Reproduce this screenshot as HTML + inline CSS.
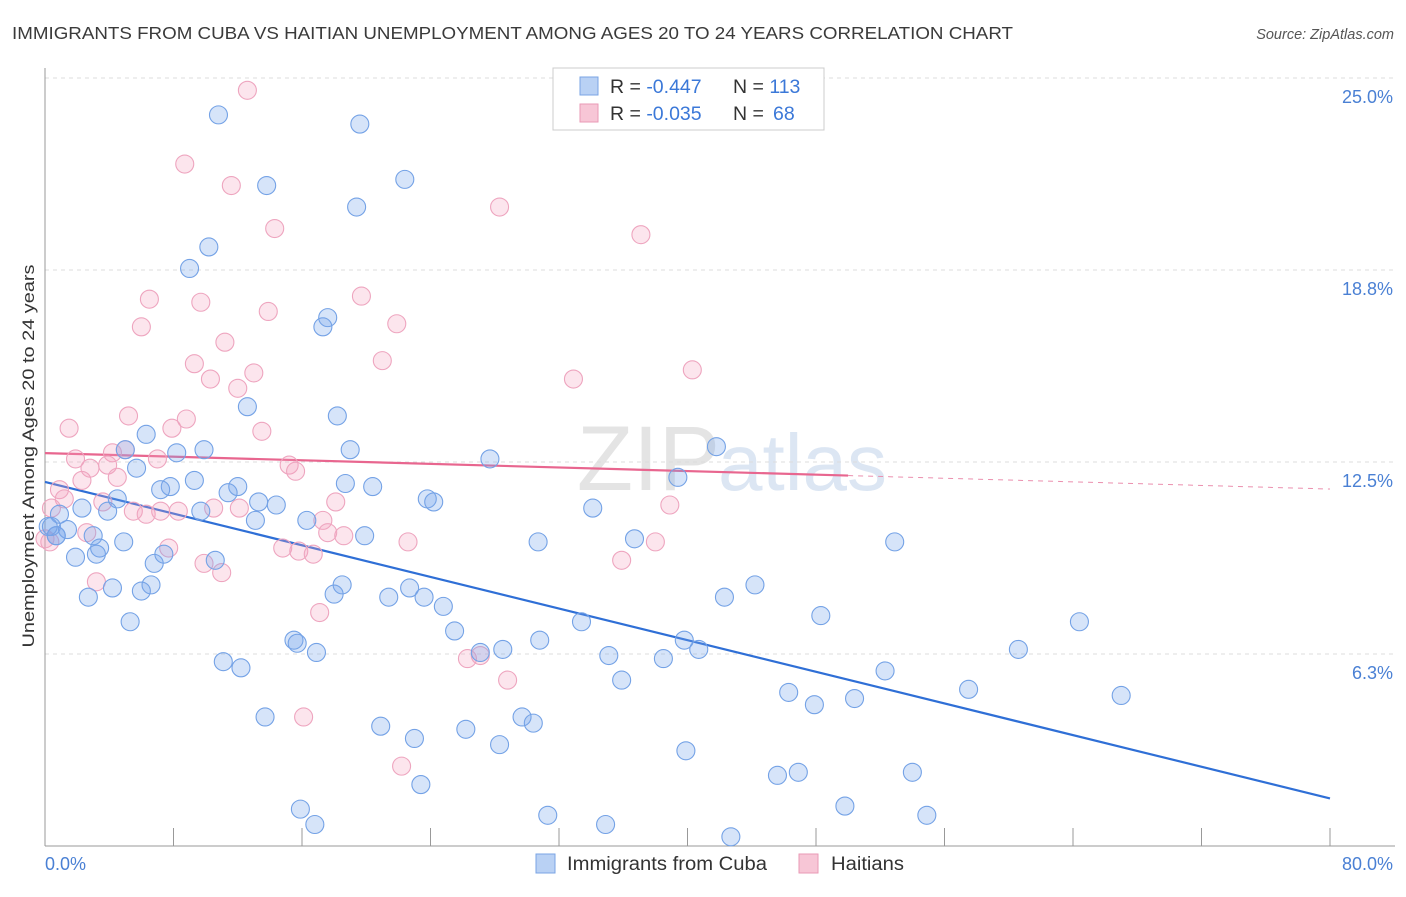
<!DOCTYPE html>
<html><head><meta charset="utf-8"><style>
body{margin:0;background:#fff;font-family:"Liberation Sans",sans-serif;}
svg text{font-family:"Liberation Sans",sans-serif;}
</style></head><body>
<svg id="chart" width="1406" height="892" viewBox="0 0 1406 892">
<text x="12" y="39" font-size="17.5" fill="#3a3a3a" textLength="1001" lengthAdjust="spacingAndGlyphs">IMMIGRANTS FROM CUBA VS HAITIAN UNEMPLOYMENT AMONG AGES 20 TO 24 YEARS CORRELATION CHART</text>
<text x="1394" y="39" font-size="14.5" fill="#555" font-style="italic" text-anchor="end">Source: ZipAtlas.com</text>
<text x="720" y="490" font-size="92" fill="#e4e4e4" text-anchor="end" font-family="Liberation Serif">ZIP</text>
<text x="718" y="490" font-size="80" fill="#dce6f3">atlas</text>
<g id="grid"></g><g id="axes"></g><g id="trend"></g><g id="pts"></g>
<text transform="translate(34,456) rotate(-90)" font-size="17" fill="#333" text-anchor="middle" textLength="383" lengthAdjust="spacingAndGlyphs">Unemployment Among Ages 20 to 24 years</text>
<g>
<rect x="553" y="68" width="271" height="62" fill="#fff" stroke="#ccc"/>
<rect x="580" y="77" width="18" height="18" fill="#b9d1f4" stroke="#7aa4e4"/>
<rect x="580" y="104" width="18" height="18" fill="#f7c6d6" stroke="#ea9ab6"/>
<text x="610" y="93" font-size="19.5" fill="#333">R = <tspan fill="#3b78d8">-0.447</tspan></text>
<text x="733" y="93" font-size="19.5" fill="#333">N = <tspan fill="#3b78d8">113</tspan></text>
<text x="610" y="120" font-size="19.5" fill="#333">R = <tspan fill="#3b78d8">-0.035</tspan></text>
<text x="733" y="120" font-size="19.5" fill="#333">N = <tspan x="773" fill="#3b78d8">68</tspan></text>
</g>
<g>
<rect x="536" y="854" width="19" height="19" fill="#b9d1f4" stroke="#7aa4e4"/>
<text x="567" y="870" font-size="19" fill="#333" textLength="200" lengthAdjust="spacingAndGlyphs">Immigrants from Cuba</text>
<rect x="799" y="854" width="19" height="19" fill="#f7c6d6" stroke="#ea9ab6"/>
<text x="831" y="870" font-size="19" fill="#333" textLength="73" lengthAdjust="spacingAndGlyphs">Haitians</text>
</g>
</svg>
<script>
const blueX=[10.8,19.6,13.8,22.4,19.4,10.2,9.0,17.6,17.3,12.6,18.2,6.3,19.0,5.0,8.2,9.9,27.7,41.8,39.4,5.7,9.3,12.0,11.4,7.8,7.2,18.7,20.4,4.5,13.3,14.4,23.8,24.2,34.1,2.3,3.9,9.7,13.1,16.3,0.9,0.4,1.4,0.7,3.0,19.9,4.9,3.4,30.7,36.7,52.9,1.9,3.2,6.8,7.4,10.6,6.6,6.0,2.7,4.2,18.5,18.0,21.4,22.7,23.6,24.8,44.2,42.3,5.3,25.5,33.4,48.3,64.4,15.5,15.7,16.9,27.1,28.5,30.8,39.8,40.7,35.1,38.5,60.6,11.1,12.2,35.9,52.3,46.3,47.9,50.4,57.5,67.0,13.7,29.7,30.4,20.9,26.2,23.0,28.3,39.9,45.6,46.9,54.0,23.4,15.9,16.8,49.8,31.3,34.9,54.9,42.7,0.2,0.7];
const blueY=[23.8,23.5,21.5,21.7,20.8,19.5,18.8,17.2,16.9,14.3,14.0,13.4,12.9,12.9,12.8,12.9,12.6,13.0,12.0,12.3,11.9,11.7,11.5,11.7,11.6,11.8,11.7,11.3,11.2,11.1,11.3,11.2,11.0,11.0,10.9,10.9,10.6,10.6,10.8,10.4,10.3,10.1,10.1,10.1,9.9,9.7,9.9,10.0,9.9,9.4,9.5,9.2,9.5,9.3,8.5,8.3,8.1,8.4,8.5,8.2,8.1,8.4,8.1,7.8,8.5,8.1,7.3,7.0,7.3,7.5,7.3,6.7,6.6,6.3,6.3,6.4,6.7,6.7,6.4,6.2,6.1,6.4,6.0,5.8,5.4,5.7,5.0,4.6,4.8,5.1,4.9,4.2,4.2,4.0,3.9,3.8,3.5,3.3,3.1,2.3,2.4,2.4,2.0,1.2,0.7,1.3,1.0,0.7,1.0,0.3,10.4,10.1];
const pinkX=[12.6,8.7,11.6,14.3,28.3,37.1,6.5,9.7,19.7,13.9,6.0,21.9,11.2,21.0,9.3,13.0,10.3,12.0,32.9,40.3,5.2,8.8,1.5,7.9,13.5,5.0,4.2,7.0,1.9,3.9,2.8,15.2,15.6,4.5,2.3,0.9,1.2,3.6,5.5,6.3,7.2,8.3,10.5,12.1,18.1,17.3,38.9,0.4,2.6,18.6,17.6,22.6,38.0,7.7,15.8,14.8,16.7,9.9,11.0,35.9,3.2,17.1,26.3,27.1,28.8,16.1,22.2,0.3,0.0];
const pinkY=[24.6,22.2,21.5,20.1,20.8,19.9,17.8,17.7,17.9,17.4,16.9,17.0,16.4,15.8,15.7,15.4,15.2,14.9,15.2,15.5,14.0,13.9,13.6,13.6,13.5,12.9,12.8,12.6,12.6,12.4,12.3,12.4,12.2,12.0,11.9,11.6,11.3,11.2,10.9,10.8,10.9,10.9,11.0,11.0,11.2,10.6,11.1,11.0,10.2,10.1,10.2,9.9,9.9,9.7,9.6,9.7,9.5,9.2,8.9,9.3,8.6,7.6,6.1,6.2,5.4,4.2,2.6,9.9,10.0];
const blueTrend=[11.85,1.55];
const pinkTrend=[12.79,11.62];
const pinkSolidEnd=50;
const yTicks=[25.0,18.75,12.5,6.25];
const yTickLabels=["25.0%","18.8%","12.5%","6.3%"];
const xTicks=[0,8,16,24,32,40,48,56,64,72,80];
const NS="http://www.w3.org/2000/svg";
const X=v=>45+v*(1285/80);
const Y=v=>846-v*30.72;
function mk(tag,attrs,parent){const e=document.createElementNS(NS,tag);for(const k in attrs)e.setAttribute(k,attrs[k]);parent.appendChild(e);return e;}
const grid=document.getElementById('grid'),axes=document.getElementById('axes'),trend=document.getElementById('trend'),pts=document.getElementById('pts');
yTicks.forEach((t,i)=>{
 const l=mk('line',{x1:45,x2:1395,y1:Y(t),y2:Y(t),stroke:'#dcdcdc','stroke-dasharray':'4,4'},grid);
 
 
 const tx=mk('text',{x:1393,y:Y(t)+25,'font-size':18,fill:'#4a80d4','text-anchor':'end'},grid);
 tx.textContent=yTickLabels[i];
 
 
});
const ya=mk('line',{x1:45,x2:45,y1:68,y2:846,stroke:'#999'},axes);


const xa=mk('line',{x1:45,x2:1395,y1:846,y2:846,stroke:'#999'},axes);


xTicks.forEach(t=>{
 const l=mk('line',{x1:X(t),x2:X(t),y1:828,y2:846,stroke:'#999'},axes);
 
 
});
const xl0=mk('text',{x:45,y:870,'font-size':18,fill:'#4a80d4'},axes);xl0.textContent="0.0%";


const xl1=mk('text',{x:1393,y:870,'font-size':18,fill:'#4a80d4','text-anchor':'end'},axes);xl1.textContent="80.0%";


function dot(x,y,fill,stroke,name){
 const c=mk('circle',{cx:X(x),cy:Y(y),r:9,fill:fill,stroke:stroke,'stroke-width':1.1},pts);
 
 
}
pinkX.forEach((x,i)=>dot(x,pinkY[i],'rgba(244,160,190,0.28)','#eea5bf','haitians-point'));
blueX.forEach((x,i)=>dot(x,blueY[i],'rgba(120,165,235,0.3)','#74a2e6','cuba-point'));
const bt=mk('line',{x1:X(0),y1:Y(blueTrend[0]),x2:X(80),y2:Y(blueTrend[1]),stroke:'#2f6fd6','stroke-width':2.2},trend);


const pAt=v=>pinkTrend[0]+(pinkTrend[1]-pinkTrend[0])*v/80;
const pt=mk('line',{x1:X(0),y1:Y(pAt(0)),x2:X(pinkSolidEnd),y2:Y(pAt(pinkSolidEnd)),stroke:'#e8668f','stroke-width':2.2},trend);


const pd=mk('line',{x1:X(pinkSolidEnd),y1:Y(pAt(pinkSolidEnd)),x2:X(80),y2:Y(pAt(80)),stroke:'#eb8fae','stroke-width':1,'stroke-dasharray':'5,5'},trend);


</script>
</body></html>
